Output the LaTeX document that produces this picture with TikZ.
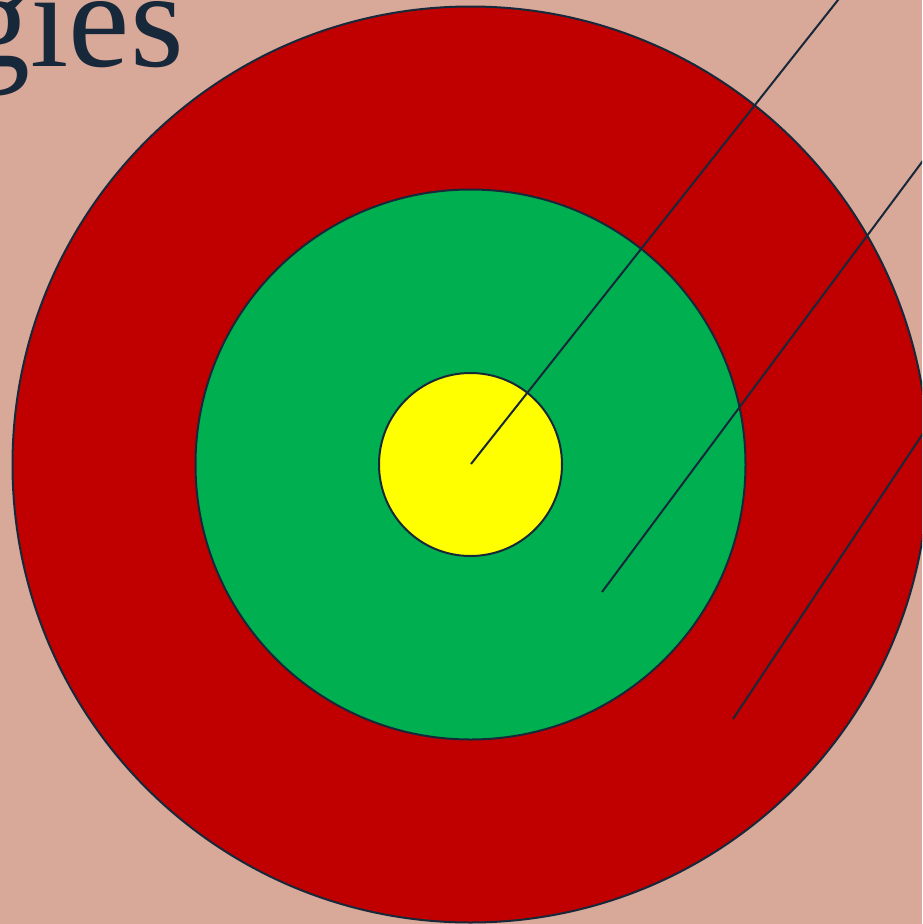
\documentclass[tikz,border=0pt]{standalone}
\usepackage{fontspec}
\usetikzlibrary{calc}
\setmainfont{Liberation Serif}
\definecolor{bgpink}{RGB}{216,168,153}
\definecolor{ringred}{RGB}{192,0,0}
\definecolor{ringgreen}{RGB}{0,176,80}
\definecolor{ringyellow}{RGB}{255,255,0}
\definecolor{navy}{RGB}{23,40,58}
\begin{document}
\begin{tikzpicture}[x=1pt,y=-1pt,
  ring/.style={draw=navy,line width=2pt},
  leader/.style={draw=navy,line width=2pt}]
\useasboundingbox (0,0) rectangle (922,924);
\clip (0,0) rectangle (922,924);
\fill[bgpink] (0,0) rectangle (922,924);
\node[anchor=base east,inner sep=0pt,text=navy,font=\fontsize{138}{140}\selectfont] (title) at (184,66) {gies};
\coordinate (c) at (470.5,464.5);
\draw[ring,fill=ringred] (c) circle[radius=458];
\draw[ring,fill=ringgreen] (c) circle[radius=275];
\draw[ring,fill=ringyellow] (c) circle[radius=91.5];
\coordinate (e1) at (471,464);
\coordinate (e2) at (602,592);
\coordinate (e3) at (733,719);
\coordinate (t1) at (838,0);
\coordinate (t2) at (922,162);
\coordinate (t3) at (922,435);
\draw[leader] (e1) -- ($(e1)!1.05!(t1)$);
\draw[leader] (e2) -- ($(e2)!1.05!(t2)$);
\draw[leader] (e3) -- ($(e3)!1.05!(t3)$);
\end{tikzpicture}
\end{document}
